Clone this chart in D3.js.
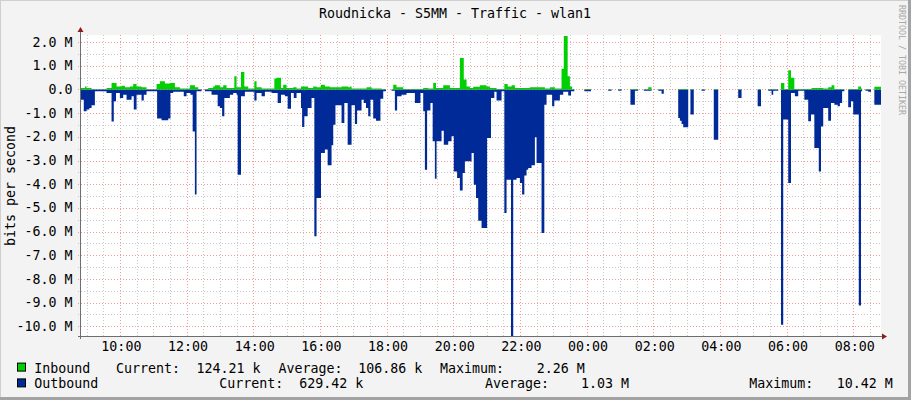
<!DOCTYPE html>
<html><head><meta charset="utf-8">
<script src="https://cdn.jsdelivr.net/npm/d3@7"></script>
<style>
html,body{margin:0;padding:0;background:#f3f3f3;}
svg{display:block;}
text{font-family:"DejaVu Sans Mono",monospace;}
</style></head>
<body>
<script>
// ---- data (minutes since 08:50, values in Mbit/s; null = no data) ----
const title = "Roudnicka - S5MM - Traffic - wlan1";
const yLabel = "bits per second";
const timeLabels = ["10:00","12:00","14:00","16:00","18:00","20:00","22:00","00:00","02:00","04:00","06:00","08:00"];
const yTickValues = [2,1,0,-1,-2,-3,-4,-5,-6,-7,-8,-9,-10];
const yTickLabels = ["2.0 M","1.0 M","0.0","-1.0 M","-2.0 M","-3.0 M","-4.0 M","-5.0 M","-6.0 M","-7.0 M","-8.0 M","-9.0 M","-10.0 M"];

const inMin = [0,7,10,19,46,55,64,73,79,88,94,100,109,118,136,142,151,160,169,178,196,205,211,217,223,229,238,241,250,256,262,276,280,288,294,301,312,316,325,348,352,360,364,370,382,388,396,409,418,424,432,439,448,469,481,484,487,514,523,541,549,559,562,568,580,616,625,634,639,652,664,682,689,694,700,706,718,730,736,748,762,768,775,781,808,835,844,853,865,869,876,880,884,888,906,918,949,955,967,973,989,1003,1013,1021,1027,1039,1049,1075,1093,1097,1103,1117,1123,1139,1147,1183,1189,1218,1224,1237,1255,1260,1266,1273,1278,1284,1315,1336,1345,1351,1356,1374,1381,1399,1404,1406,1412,1422,1428];
const inVal = [0.06,0.13,0.06,0.01,0.06,0.27,0.13,0.16,0.09,0.13,0.23,0.13,0.09,0.01,0.23,0.35,0.25,0.27,0.09,0.04,0.18,0.09,0.01,null,0.01,0.06,0.13,0.18,0.09,0.18,0.06,0.56,0.09,0.74,0.13,0.04,0.35,0.09,0.04,0.46,0.49,0.06,0.2,0.06,0.09,0.04,0.13,0.06,0.13,0.09,0.2,0.13,0.09,0.13,0.09,0.13,0.04,0.09,0.04,0.01,null,0.01,0.2,0.09,0.02,0.06,0.04,0.27,0.06,0.18,0.06,1.33,0.42,0.13,0.06,0.11,0.18,0.13,0.06,0.02,0.23,0.13,0.18,0.06,0.09,0.04,0.09,0.04,0.88,2.26,0.56,0.13,0.01,null,0.02,null,0.01,null,0.01,null,0.02,null,0.01,0.09,null,0.01,null,0.02,null,0.02,null,0.01,null,0.02,null,0.01,null,0.01,null,0.01,null,0.27,0.02,0.81,0.49,0.02,0.06,0.04,0.09,0.18,0.02,null,0.02,0.13,0.04,null,0.01,null,0.12];

const outMin = [0,5,10,15,19,25,46,55,59,63,70,76,82,91,95,100,109,113,118,137,145,157,161,166,185,190,197,201,205,208,217,223,235,246,250,254,258,268,274,280,282,288,295,312,316,325,331,343,354,360,367,372,378,383,388,396,398,402,408,415,420,424,432,439,444,451,454,458,469,474,480,487,493,497,505,509,513,517,521,526,531,539,544,549,559,565,569,577,586,601,611,616,619,623,629,633,637,640,649,653,661,667,671,677,682,687,691,703,707,711,715,721,731,738,744,748,757,762,766,774,778,784,790,794,798,802,805,811,817,820,829,834,838,848,852,862,868,877,882,888,906,918,949,955,967,973,989,997,1003,1013,1027,1039,1045,1049,1075,1078,1081,1084,1093,1097,1103,1117,1123,1139,1147,1183,1189,1218,1224,1237,1243,1246,1255,1260,1264,1273,1278,1285,1291,1302,1309,1314,1320,1328,1332,1336,1345,1350,1356,1362,1366,1370,1374,1381,1386,1390,1400,1404,1406,1412,1417,1422,1428];
const outVal = [0.43,0.92,0.85,0.78,0.67,0.08,0.15,1.35,0.5,0.15,0.36,0.22,0.43,0.29,0.85,0.22,0.47,0.22,0.08,1.23,1.30,1.23,0.15,0.1,0.29,0.15,0.22,1.77,4.44,0.08,null,0.08,0.22,0.71,0.78,1.13,0.36,0.22,0.15,0.22,3.6,0.29,0.1,0.47,0.15,0.29,0.1,0.15,0.57,0.22,0.29,0.81,0.15,0.36,0.15,0.78,1.58,1.13,0.78,0.36,6.2,4.58,2.68,2.54,3.2,2.36,1.49,0.67,1.42,0.57,2.33,0.67,1.46,0.89,0.43,0.57,0.78,1.13,0.43,1.23,1.32,0.39,0.08,null,0.05,0.89,0.29,0.22,0.15,0.57,0.15,0.92,3.39,0.89,0.57,2.19,3.77,2.19,1.74,2.33,2.19,1.98,3.46,3.74,4.27,3.53,3.03,2.68,4.02,4.58,5.54,5.85,2.05,0.36,0.1,0.47,0.08,5.22,3.81,10.42,3.81,3.74,3.95,4.44,3.63,3.39,3.32,3.2,2.02,3.1,6.06,0.64,0.22,0.71,0.47,0.22,0.1,0.25,0.08,null,0.08,null,0.05,null,0.05,null,0.64,0.05,null,0.05,null,0.05,0.18,null,1.2,1.32,1.46,1.6,null,1.06,null,0.05,null,2.12,null,0.36,null,0.71,null,0.05,0.22,0.05,null,9.94,1.27,3.95,0.15,0.29,0.05,0.43,1.34,1.06,2.47,3.46,1.56,0.78,1.32,0.57,0.64,0.71,0.57,0.08,null,0.75,0.5,1.06,9.12,0.08,null,0.05,0.1,null,0.64];

const legendRows = [
  {name:"Inbound", color:"#00CF00", items:[["Current:","124.21 k"],["Average:","106.86 k"],["Maximum:","2.26 M"]]},
  {name:"Outbound", color:"#002A97", items:[["Current:","629.42 k"],["Average:","1.03 M"],["Maximum:","10.42 M"]]}
];

// ---- layout ----
const W = 911, H = 400;
const L = 81, R = 881, T = 35, B = 336;
const totalMin = 1440;
const t0 = new Date(2020,0,1,8,50);
const t1 = new Date(t0.getTime() + totalMin*60000);

const svg = d3.select("body").append("svg").attr("width",W).attr("height",H);
svg.append("rect").attr("width",W).attr("height",H).attr("fill","#f3f3f3");
// frame
svg.append("rect").attr("x",0).attr("y",0).attr("width",W).attr("height",1).attr("fill","#cfcfcf");
svg.append("rect").attr("x",0).attr("y",0).attr("width",1).attr("height",H).attr("fill","#cfcfcf");
svg.append("rect").attr("x",W-3).attr("y",0).attr("width",3).attr("height",H).attr("fill","#a3a3a3");
svg.append("rect").attr("x",0).attr("y",H-3).attr("width",W).attr("height",3).attr("fill","#a3a3a3");

const x = d3.scaleTime().domain([t0,t1]).range([L,R]);
const y = d3.scaleLinear().domain([-10.41, 2.30]).range([B, T]);

svg.append("rect").attr("x",L).attr("y",T).attr("width",R-L).attr("height",B-T).attr("fill","#ffffff");

// grid
const minorT = d3.timeMinute.every(30).range(t0, t1);
const majorT = d3.timeHour.every(2).range(t0, t1);
const g = svg.append("g");
minorT.forEach(d=>{
  const xx = Math.round(x(d))+0.5;
  g.append("line").attr("x1",xx).attr("x2",xx).attr("y1",T).attr("y2",B+2)
   .attr("stroke","#c8c8c8").attr("stroke-dasharray","1,2");
});
majorT.forEach(d=>{
  const xx = Math.round(x(d))+0.5;
  g.append("line").attr("x1",xx).attr("x2",xx).attr("y1",T).attr("y2",B+2)
   .attr("stroke","#f09a9a").attr("stroke-dasharray","1,2");
});
d3.range(-10.0, 2.01, 0.5).forEach(v=>{
  const yy = Math.round(y(v))+0.5;
  const major = Math.abs(v-Math.round(v))<1e-6;
  g.append("line").attr("x1",L-3).attr("x2",R).attr("y1",yy).attr("y2",yy)
   .attr("stroke", major?"#f09a9a":"#c8c8c8").attr("stroke-dasharray","1,2");
});

// data areas (step)
function steps(mins, vals){
  const pts = [];
  for(let i=0;i<mins.length;i++){
    const a = mins[i], b = (i+1<mins.length)?mins[i+1]:totalMin;
    pts.push({t:new Date(t0.getTime()+a*60000), v:vals[i]});
    pts.push({t:new Date(t0.getTime()+b*60000), v:vals[i]});
    if(vals[i]==null || (i+1<mins.length && vals[i+1]==null)) pts.push({t:null,v:null});
  }
  return pts;
}
const inArea = d3.area().defined(d=>d.v!=null).x(d=>x(d.t)).y0(y(0)).y1(d=>y(d.v));
const outArea = d3.area().defined(d=>d.v!=null).x(d=>x(d.t)).y0(y(0)).y1(d=>y(-d.v));
svg.append("path").datum(steps(outMin,outVal)).attr("d",outArea).attr("fill","#002A97");
svg.append("path").datum(steps(inMin,inVal)).attr("d",inArea).attr("fill","#00CF00");

// axes
const axisColor = "#6e6e6e";
svg.append("line").attr("x1",L-0.5).attr("x2",L-0.5).attr("y1",B+3).attr("y2",T-4).attr("stroke",axisColor);
svg.append("line").attr("x1",L-3).attr("x2",R+3).attr("y1",B+0.5).attr("y2",B+0.5).attr("stroke",axisColor);
svg.append("path").attr("d",`M${L-3.5},${T-3} L${L+2.5},${T-3} L${L-0.5},${T-8} Z`).attr("fill","#8b1c1c");
svg.append("path").attr("d",`M${R+1},${B-2.5} L${R+1},${B+3.5} L${R+6},${B+0.5} Z`).attr("fill","#8b1c1c");

// labels
const fs = "13.3px";
yTickValues.forEach((v,i)=>{
  svg.append("text").attr("x",72.5).attr("y",y(v)+4.6).attr("text-anchor","end")
    .attr("font-size",fs).attr("fill","#000").text(yTickLabels[i]);
});
majorT.forEach((d,i)=>{
  svg.append("text").attr("x",x(d)+1.5).attr("y",350.5).attr("text-anchor","middle")
    .attr("font-size",fs).attr("fill","#000").text(d3.timeFormat("%H:%M")(d));
});
svg.append("text").attr("transform","translate(14.5,186) rotate(-90)").attr("text-anchor","middle")
  .attr("font-size",fs).attr("fill","#000").text(yLabel);
svg.append("text").attr("x",455).attr("y",18.3).attr("text-anchor","middle")
  .attr("font-size",fs).attr("fill","#000").text(title);
svg.append("text").attr("transform","translate(899,5) rotate(90)").attr("text-anchor","start")
  .attr("font-size","8.3px").attr("fill","#a8a8a8").text("RRDTOOL / TOBI OETIKER");

// legend
const rowY = [372.6, 388.4];
const xPos = [[116,196.5,278.5,358.3,440,536.7],[219.3,299.3,485,581,749.3,836.7]];
legendRows.forEach((r,i)=>{
  svg.append("rect").attr("x",17.5).attr("y",rowY[i]-9.5).attr("width",8).attr("height",8)
    .attr("fill",r.color).attr("stroke","#000").attr("stroke-width",1);
  svg.append("text").attr("x",34.3).attr("y",rowY[i]).attr("font-size",fs).attr("fill","#000").text(r.name);
  r.items.forEach((it,j)=>{
    svg.append("text").attr("x",xPos[i][2*j]).attr("y",rowY[i]).attr("font-size",fs).attr("fill","#000").text(it[0]);
    svg.append("text").attr("x",xPos[i][2*j+1]).attr("y",rowY[i]).attr("font-size",fs).attr("fill","#000").text(it[1]);
  });
});
</script>
</body></html>
